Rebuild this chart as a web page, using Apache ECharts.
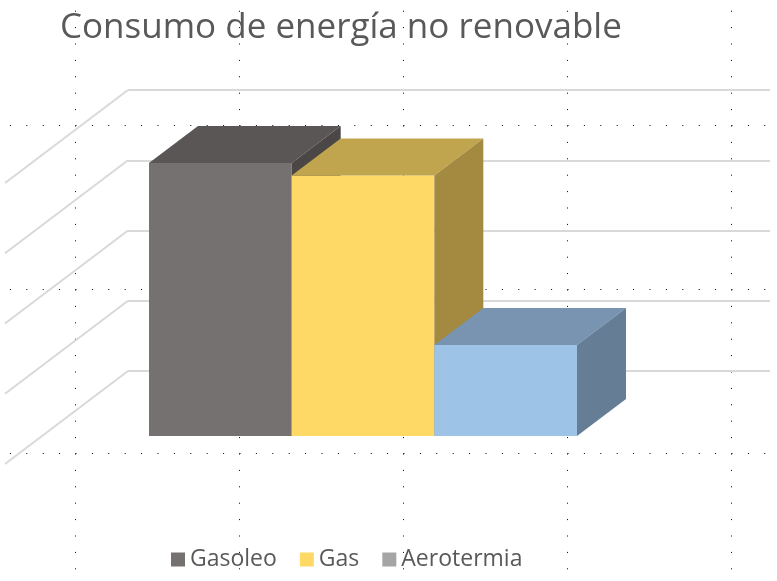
<!DOCTYPE html>
<html>
<head>
<meta charset="utf-8">
<script src="https://cdn.jsdelivr.net/npm/echarts@6/dist/echarts.min.js"></script>
<style>
html,body{margin:0;padding:0;background:#fff;}
#chart{width:777px;height:581px;}
</style>
</head>
<body>
<div id="chart"></div>
<script>
// ---- data ----
const titleText = 'Consumo de energía no renovable';
const categories = ['Consumo'];
const seriesNames = ['Gasoleo', 'Gas', 'Aerotermia'];
const gasoleo = [3.9];
const gas = [3.72];
const aerotermia = [1.3];
const valueTicks = [0, 1, 2, 3, 4];

// ---- styles ----
const legendColors = ['#767171', '#ffd966', '#a5a5a5'];
const faceColors = [
  { front: '#767171', top: '#5a5655', side: '#4b4746' },
  { front: '#ffd966', top: '#c1a54e', side: '#a38a40' },
  { front: '#9dc3e6', top: '#7894b0', side: '#657d95' }
];
const DEPTH = [49, -37];      // bar depth offset
const WALL = [-123, 93];      // side wall diagonal offset
const dotX = [75.5, 239.5, 403.5, 567.5, 731.5];
const dotY = [125.5, 289.5, 453.5];
const dotStep = 16.4;

const chart = echarts.init(document.getElementById('chart'), null, { renderer: 'canvas' });

function barRenderer(k) {
  return function (params, api) {
    const band = api.size([1, 0])[0];
    const topPt = api.coord([api.value(0), api.value(1)]);
    const basePt = api.coord([api.value(0), 0]);
    const w = band / 3;
    const x0 = topPt[0] - band / 2 + k * w;
    const x1 = x0 + w;
    const yT = topPt[1];
    const yB = basePt[1];
    const c = faceColors[k];
    return {
      type: 'group',
      children: [
        { type: 'rect', shape: { x: x0, y: yT, width: w, height: yB - yT }, style: { fill: c.front } },
        { type: 'polygon', shape: { points: [[x0, yT], [x1, yT], [x1 + DEPTH[0], yT + DEPTH[1]], [x0 + DEPTH[0], yT + DEPTH[1]]] }, style: { fill: c.top } },
        { type: 'polygon', shape: { points: [[x1, yT], [x1 + DEPTH[0], yT + DEPTH[1]], [x1 + DEPTH[0], yB + DEPTH[1]], [x1, yB]] }, style: { fill: c.side } }
      ]
    };
  };
}

const seriesData = [gasoleo, gas, aerotermia];

const dotGraphics = [];
dotX.forEach(function (x) {
  const start = dotY[0] - dotStep * 7;
  dotGraphics.push({ type: 'line', silent: true, z: -1,
    shape: { x1: x, y1: start, x2: x, y2: 581 },
    style: { stroke: '#000', lineWidth: 1, lineDash: [1, dotStep - 1] } });
});
dotY.forEach(function (y) {
  const start = dotX[0] - dotStep * 4;
  dotGraphics.push({ type: 'line', silent: true, z: -1,
    shape: { x1: start, y1: y, x2: 777, y2: y },
    style: { stroke: '#000', lineWidth: 1, lineDash: [1, dotStep - 1] } });
});

const option = {
  animation: false,
  backgroundColor: '#fff',
  title: {
    text: titleText, left: 55, top: 6,
    textStyle: { fontFamily: 'Open Sans', fontSize: 35, fontWeight: 'normal', color: '#595959' }
  },
  legend: {
    data: seriesNames.map(function (n, i) { return { name: n, itemStyle: { color: legendColors[i] } }; }),
    left: 166, top: 543, icon: 'rect', itemWidth: 14, itemHeight: 14, itemGap: 23,
    textStyle: { fontFamily: 'Open Sans', fontSize: 23, color: '#595959' }
  },
  graphic: dotGraphics,
  grid: [
    { left: 149, right: 200, top: 156, bottom: 145 },
    { left: 128, right: 7, top: 90, bottom: 210 }
  ],
  xAxis: [
    { type: 'category', gridIndex: 0, data: categories, show: false, boundaryGap: true },
    { type: 'value', gridIndex: 1, min: 0, max: 1, show: false }
  ],
  yAxis: [
    { type: 'value', gridIndex: 0, min: 0, max: 4, interval: 1, show: false },
    { type: 'value', gridIndex: 1, min: 0, max: 4, interval: 1,
      axisLine: { show: false }, axisTick: { show: false }, axisLabel: { show: false },
      splitLine: { show: true, lineStyle: { color: '#d9d9d9', width: 2 } } }
  ],
  series: [
    {
      type: 'custom', name: '_wall', xAxisIndex: 1, yAxisIndex: 1, silent: true, z: 1,
      data: valueTicks.map(function (v) { return [0, v]; }),
      renderItem: function (params, api) {
        const p = api.coord([api.value(0), api.value(1)]);
        return { type: 'line', shape: { x1: p[0], y1: p[1], x2: p[0] + WALL[0], y2: p[1] + WALL[1] },
          style: { stroke: '#d9d9d9', lineWidth: 2 } };
      }
    }
  ].concat(seriesNames.map(function (n, k) {
    return {
      type: 'custom', name: n, xAxisIndex: 0, yAxisIndex: 0, z: 3,
      itemStyle: { color: legendColors[k] },
      data: categories.map(function (c, j) { return [j, seriesData[k][j]]; }),
      renderItem: barRenderer(k)
    };
  }))
};
chart.setOption(option);
</script>
</body>
</html>
